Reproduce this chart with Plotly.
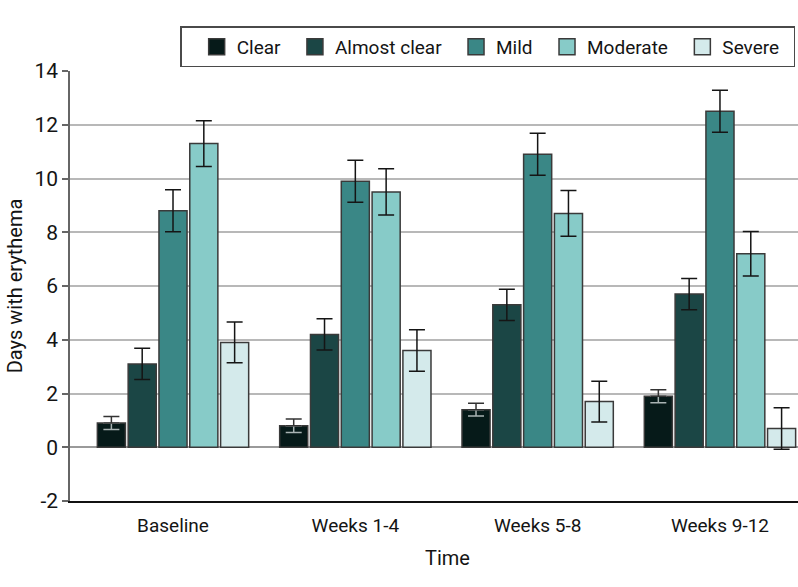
import plotly.graph_objects as go

categories = ["Baseline", "Weeks 1-4", "Weeks 5-8", "Weeks 9-12"]
series_names = ["Clear", "Almost clear", "Mild", "Moderate", "Severe"]
clear = [0.9, 0.8, 1.4, 1.9]
almost_clear = [3.1, 4.2, 5.3, 5.7]
mild = [8.8, 9.9, 10.9, 12.5]
moderate = [11.3, 9.5, 8.7, 7.2]
severe = [3.9, 3.6, 1.7, 0.7]
clear_err = [0.24, 0.25, 0.24, 0.24]
almost_clear_err = [0.58, 0.58, 0.58, 0.58]
mild_err = [0.78, 0.78, 0.78, 0.78]
moderate_err = [0.85, 0.86, 0.85, 0.83]
severe_err = [0.76, 0.77, 0.76, 0.77]
y_ticks = [-2, 0, 2, 4, 6, 8, 10, 12, 14]
y_tick_labels = ["-2", "0", "2", "4", "6", "8", "10", "12", "14"]

values = [clear, almost_clear, mild, moderate, severe]
errors = [clear_err, almost_clear_err, mild_err, moderate_err, severe_err]
colors = ["#061a19", "#1b4645", "#3a8786", "#87cbc8", "#d4eaeb"]

FONT = "Roboto"
TXT = "#141414"
slot = 0.169
bar_w = 0.154
start = -2.5 * slot

fig = go.Figure()
for i, (name, vals, errs, col) in enumerate(zip(series_names, values, errors, colors)):
    off = start + i * slot + (slot - bar_w) / 2
    if i == 0:
        err = dict(visible=False)
    else:
        err = dict(type="data", array=errs, color="#151515", thickness=1.5, width=8)
    fig.add_trace(go.Bar(
        x=categories, y=vals, name=name, width=bar_w, offset=off,
        marker=dict(color=col, line=dict(color="#3a3a3a", width=1.5)),
        error_y=err, showlegend=False, hoverinfo="y"))
    if i == 0:
        # lower whisker drawn light over the dark bar, upper whisker dark
        fig.add_trace(go.Bar(
            x=categories, y=vals, width=bar_w, offset=off,
            marker=dict(color="rgba(0,0,0,0)", line=dict(width=0)),
            error_y=dict(type="data", symmetric=False, array=[0] * len(errs),
                         arrayminus=errs, color="#a9b3b3", thickness=1.5, width=8),
            showlegend=False, hoverinfo="skip"))
        fig.add_trace(go.Bar(
            x=categories, y=vals, width=bar_w, offset=off,
            marker=dict(color="rgba(0,0,0,0)", line=dict(width=0)),
            error_y=dict(type="data", symmetric=False, array=errs,
                         arrayminus=[0] * len(errs), color="#333333", thickness=1.5, width=8),
            showlegend=False, hoverinfo="skip"))

# legend entries
for k, (name, col) in enumerate(zip(series_names, colors)):
    fig.add_trace(go.Scatter(
        x=[None], y=[None], mode="markers", name=name + "\u00a0\u00a0",
        marker=dict(symbol="square", size=16, color=col, line=dict(color="#3a3a3a", width=1.5)),
        showlegend=True))

fig.update_layout(
    width=798, height=587,
    margin=dict(l=70, r=0, t=71, b=86),
    barmode="overlay",
    plot_bgcolor="white", paper_bgcolor="white",
    font=dict(family=FONT, size=20, color=TXT),
    legend=dict(orientation="h", x=0.9965, xanchor="right", y=1.056, yanchor="middle",
                bordercolor="#4a4a4a", borderwidth=1.5, bgcolor="white",
                font=dict(family=FONT, size=19, color=TXT),
                title=dict(text="\u00a0", side="left", font=dict(size=19)),
                itemsizing="trace"),
    xaxis=dict(range=[-0.565, 3.428], showgrid=False, showline=True, linecolor="#111111",
               linewidth=2, ticks="", ticklabelstandoff=6,
               tickfont=dict(size=19)),
    yaxis=dict(range=[-2, 14], tickvals=y_ticks, ticktext=y_tick_labels,
               showgrid=True, gridcolor="#b8b8b8",
               gridwidth=2, zeroline=True, zerolinecolor="#9a9a9a", zerolinewidth=2,
               showline=True, linecolor="#666666", linewidth=1.5,
               ticks="outside", ticklen=6, tickcolor="#666666", tickwidth=1.5,
               tickfont=dict(size=21),
               title=dict(text="Days with erythema", font=dict(size=20), standoff=6)),
    annotations=[dict(text="Time", xref="paper", yref="paper", x=0.518, y=-0.133,
                      xanchor="center", yanchor="middle", showarrow=False,
                      font=dict(size=20, color=TXT))],
)

fig.write_html("out.html", config={"displayModeBar": False},
               post_script="document.body.style.margin='0';document.body.style.overflow='hidden';")
